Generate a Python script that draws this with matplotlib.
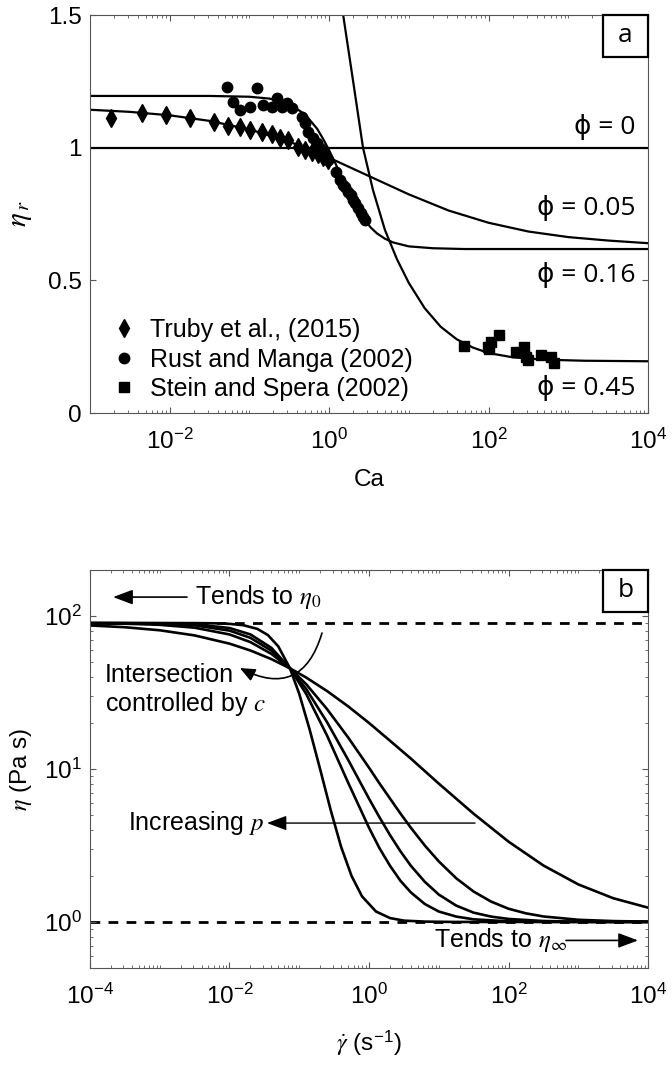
import matplotlib
matplotlib.use("Agg")
from matplotlib import pyplot as plt
from matplotlib.patches import Rectangle
from matplotlib.ticker import FixedLocator, LogLocator, NullFormatter

# ---- panel a: relative viscosity against capillary number ----
ca_phi0 = [1e-3, 1e4]
eta_phi0 = [1.0, 1.0]

ca_phi05 = [1e-3, 3.16e-3, 1e-2, 3.16e-2, 0.1, 0.316, 1.0, 3.16, 10, 31.6,
            100, 316, 1000, 3160, 1e4]
eta_phi05 = [1.143, 1.135, 1.122, 1.101, 1.069, 1.023, 0.962, 0.893, 0.824,
             0.763, 0.717, 0.684, 0.663, 0.650, 0.640]

ca_phi16 = [1e-3, 1e-2, 3.16e-2, 0.1, 0.178, 0.316, 0.501, 0.708, 0.841, 1.0,
            1.19, 1.41, 1.68, 2.0, 2.37, 2.82, 3.35, 3.98, 5.01, 6.31, 10, 20,
            50, 1e4]
eta_phi16 = [1.195, 1.195, 1.195, 1.192, 1.185, 1.165, 1.125, 1.071, 1.033,
             0.990, 0.943, 0.893, 0.844, 0.799, 0.759, 0.726, 0.698, 0.677,
             0.657, 0.643, 0.628, 0.621, 0.618, 0.618]

ca_phi45 = [1.32, 1.50, 2.0, 2.66, 3.55, 5.01, 7.08, 10, 15.8, 25.1, 39.8,
            63.1, 100, 200, 501, 1580, 1e4]
eta_phi45 = [1.62, 1.50, 1.25, 1.0, 0.84, 0.69, 0.58, 0.49, 0.395, 0.325,
             0.278, 0.247, 0.226, 0.21, 0.201, 0.197, 0.195]

truby_ca = [1.82e-3, 4.47e-3, 8.91e-3, 1.78e-2, 3.63e-2, 5.37e-2, 7.59e-2,
            0.102, 0.145, 0.191, 0.240, 0.302, 0.407, 0.501, 0.617, 0.724,
            0.832, 0.977]
truby_eta = [1.11, 1.13, 1.123, 1.11, 1.097, 1.082, 1.078, 1.067, 1.059,
             1.052, 1.036, 1.029, 1.003, 0.991, 0.984, 0.976, 0.965, 0.954]

rust_ca = [0.0525, 0.126, 0.0631, 0.0759, 0.102, 0.148, 0.224, 0.191, 0.257,
           0.295, 0.339, 0.457, 0.501, 0.550, 0.631, 0.708, 0.776, 0.832,
           0.977, 1.23, 1.35, 1.48, 1.58, 1.74, 1.86, 2.0, 2.14, 2.29, 2.51,
           2.69, 2.82]
rust_eta = [1.229, 1.225, 1.172, 1.142, 1.153, 1.161, 1.187, 1.153, 1.153,
            1.168, 1.15, 1.116, 1.093, 1.06, 1.036, 1.018, 0.999, 0.98, 0.954,
            0.908, 0.88, 0.86, 0.85, 0.833, 0.82, 0.803, 0.79, 0.773, 0.755,
            0.739, 0.728]

stein_ca = [49.0, 97.7, 107, 135, 100, 224, 282, 295, 316, 457, 603, 661]
stein_eta = [0.253, 0.249, 0.268, 0.294, 0.241, 0.23, 0.249, 0.211, 0.2,
             0.219, 0.211, 0.188]

phi_labels = ["\u03d5 = 0", "\u03d5 = 0.05", "\u03d5 = 0.16", "\u03d5 = 0.45"]
phi_label_y = [1.078, 0.773, 0.52, 0.094]

# ---- panel b: viscosity against shear rate for increasing p ----
eta_0 = 90.0
eta_inf = 1.0
rate_limits = [1e-4, 1e4]

rate_c1 = [1e-4, 1e-3, 3.16e-3, 6.31e-3, 1e-2, 1.58e-2, 2.51e-2, 3.55e-2,
           5.01e-2, 7.36e-2, 0.1, 0.141, 0.2, 0.282, 0.398, 0.562, 0.794,
           1.26, 2.0, 3.16, 6.31, 15.8, 1e4]
eta_c1 = [90.0, 90.0, 89.9, 89.6, 88.9, 87.1, 82.4, 75.1, 63.3, 45.5, 31.0,
          18.1, 9.9, 5.4, 3.1, 2.0, 1.47, 1.17, 1.06, 1.02, 1.005, 1.0, 1.0]

rate_c2 = [1e-4, 3.16e-4, 1e-3, 3.16e-3, 1e-2, 0.02, 0.0398, 0.0736, 0.126,
           0.251, 0.501, 1.0, 1.41, 2.0, 2.82, 3.98, 6.31, 10, 17.8, 31.6,
           100, 316, 1000, 1e4]
eta_c2 = [90.0, 89.9, 89.6, 88.4, 83.5, 75.8, 62.0, 45.5, 30.9, 16.5, 8.16,
          4.13, 3.04, 2.33, 1.86, 1.56, 1.31, 1.17, 1.084, 1.04, 1.009, 1.002,
          1.0, 1.0]

rate_c3 = [1e-4, 3.16e-4, 1e-3, 3.16e-3, 1e-2, 0.02, 0.0398, 0.0736, 0.126,
           0.251, 0.501, 1.0, 1.41, 2.0, 2.82, 3.98, 6.31, 10, 17.8, 31.6,
           56.2, 100, 316, 1000, 3160, 1e4]
eta_c3 = [89.9, 89.7, 89.0, 86.9, 80.3, 72.0, 59.4, 45.5, 33.3, 20.2, 11.5,
          6.40, 4.84, 3.70, 2.90, 2.33, 1.83, 1.51, 1.279, 1.15, 1.084, 1.046,
          1.014, 1.004, 1.001, 1.0]

rate_c4 = [1e-4, 3.16e-4, 1e-3, 3.16e-3, 1e-2, 0.02, 0.0398, 0.0736, 0.126,
           0.251, 0.501, 1.0, 1.41, 2.0, 2.82, 3.98, 6.31, 10, 17.8, 31.6,
           56.2, 100, 178, 316, 1000, 3160, 1e4]
eta_c4 = [89.6, 89.1, 87.6, 83.9, 75.8, 67.5, 56.6, 45.5, 35.8, 24.6, 16.1,
          10.2, 8.06, 6.41, 5.12, 4.13, 3.16, 2.49, 1.93, 1.58, 1.359, 1.22,
          1.138, 1.086, 1.033, 1.013, 1.005]

rate_c5 = [1e-4, 3.16e-4, 1e-3, 3.16e-3, 1e-2, 0.02, 0.0398, 0.0736, 0.126,
           0.251, 0.501, 1.0, 2.0, 3.98, 10, 31.6, 100, 316, 1000, 3160, 1e4]
eta_c5 = [86.8, 84.5, 80.7, 74.7, 66.0, 59.5, 52.3, 45.5, 39.6, 32.3, 25.7,
          20.0, 15.3, 11.7, 8.03, 5.10, 3.35, 2.34, 1.76, 1.43, 1.24]


plt.rcParams.update(
    {
        "font.family": ["Liberation Sans", "DejaVu Sans"],
        "font.size": 17.5,
        "mathtext.fontset": "stix",
        "axes.unicode_minus": False,
        "axes.linewidth": 0.8,
        "axes.edgecolor": "#555555",
        "xtick.direction": "in",
        "ytick.direction": "in",
        "xtick.top": True,
        "ytick.right": True,
        "xtick.color": "#555555",
        "ytick.color": "#555555",
        "xtick.labelcolor": "black",
        "ytick.labelcolor": "black",
        "xtick.major.size": 4,
        "ytick.major.size": 4,
        "xtick.minor.size": 2.5,
        "ytick.minor.size": 2.5,
        "xtick.major.pad": 11,
        "ytick.major.pad": 6,
        "xtick.labelsize": 17.5,
        "ytick.labelsize": 17.5,
    }
)

LABEL_FONT = ["Open Sans", "DejaVu Sans"]


def add_panel_box(ax, letter):
    w, h = 0.081, 0.105
    ax.add_patch(Rectangle((1 - w, 1 - h), w, h, transform=ax.transAxes,
                           facecolor="white", edgecolor="black", lw=1.6,
                           zorder=10, clip_on=False))
    ax.text(1 - w / 2, 1 - h / 2, letter, transform=ax.transAxes,
            ha="center", va="center", fontsize=19, family=LABEL_FONT,
            zorder=11)


def log_ticks(axis, majors):
    axis.set_major_locator(FixedLocator(majors))
    axis.set_minor_locator(LogLocator(base=10, subs=range(1, 10), numticks=30))
    axis.set_minor_formatter(NullFormatter())


fig = plt.figure(figsize=(6.72, 10.65), dpi=100)
ax_a = fig.add_axes([0.1339, 0.6122, 0.8304, 0.3737])
ax_b = fig.add_axes([0.1339, 0.0911, 0.8304, 0.3737])

# panel a
ax_a.set_xscale("log")
for ca, eta in [(ca_phi0, eta_phi0), (ca_phi05, eta_phi05),
                (ca_phi16, eta_phi16), (ca_phi45, eta_phi45)]:
    ax_a.plot(ca, eta, color="black", lw=1.6, zorder=2)

h_truby, = ax_a.plot(truby_ca, truby_eta, "d", color="black", ms=9, zorder=3)
h_rust, = ax_a.plot(rust_ca, rust_eta, "o", color="black", ms=7.5, zorder=3)
h_stein, = ax_a.plot(stein_ca, stein_eta, "s", color="black", ms=7, zorder=3)

ax_a.legend([h_truby, h_rust, h_stein],
            ["Truby et al., (2015)", "Rust and Manga (2002)",
             "Stein and Spera (2002)"],
            loc="lower left", bbox_to_anchor=(0.039, 0.03), frameon=False,
            borderpad=0, borderaxespad=0, handlelength=1.0,
            handletextpad=0.55, labelspacing=0.22, fontsize=18)

for text, y in zip(phi_labels, phi_label_y):
    ax_a.text(0.978, y, text, transform=ax_a.get_yaxis_transform(),
              ha="right", va="center", fontsize=19, family=LABEL_FONT)

ax_a.set_xlim(1e-3, 1e4)
ax_a.set_ylim(0, 1.5)
log_ticks(ax_a.xaxis, [1e-2, 1e0, 1e2, 1e4])
ax_a.set_yticks([0, 0.5, 1, 1.5])
ax_a.set_yticklabels(["0", "0.5", "1", "1.5"])
ax_a.set_xlabel("Ca")
ax_a.xaxis.set_label_coords(0.5, -0.14)
ax_a.set_ylabel(r"$\eta_{\,r}$", fontsize=21)
ax_a.yaxis.set_label_coords(-0.1, 0.5)
add_panel_box(ax_a, "a")

# panel b
ax_b.set_xscale("log")
ax_b.set_yscale("log")
dash = (0, (3.5, 3))
ax_b.plot(rate_limits, [eta_0, eta_0], color="black", lw=2, ls=dash, zorder=1)
ax_b.plot(rate_limits, [eta_inf, eta_inf], color="black", lw=2, ls=dash,
          zorder=1)
for rate, eta in [(rate_c1, eta_c1), (rate_c2, eta_c2), (rate_c3, eta_c3),
                  (rate_c4, eta_c4), (rate_c5, eta_c5)]:
    ax_b.plot(rate, eta, color="black", lw=1.9, zorder=2)

straight = dict(arrowstyle="-|>,head_length=0.8,head_width=0.3",
                mutation_scale=15, lw=1.2, color="black",
                shrinkA=0, shrinkB=0)
ax_b.annotate("", xy=(2.14e-4, 133), xytext=(2.46e-3, 133),
              arrowprops=straight)
ax_b.text(3.2e-3, 133, r"Tends to $\eta_{\mathit{0}}$", ha="left",
          va="center", fontsize=18)

ax_b.annotate("", xy=(7200, 0.757), xytext=(667, 0.757), arrowprops=straight)
ax_b.text(8.55, 0.762, r"Tends to $\eta_\infty$", ha="left", va="center",
          fontsize=18)

ax_b.annotate("", xy=(0.0345, 4.43), xytext=(33.1, 4.43),
              arrowprops=dict(straight, lw=1.0))
ax_b.text(0.0313, 4.43, r"Increasing $p$", ha="right", va="center",
          fontsize=18)

ax_b.annotate("", xy=(0.0141, 45.7), xytext=(0.212, 77.4),
              arrowprops=dict(arrowstyle="-|>,head_length=0.7,head_width=0.3",
                              mutation_scale=13, lw=1.2, color="black",
                              shrinkA=0, shrinkB=0,
                              connectionstyle="arc3,rad=-0.6"))
ax_b.text(1.64e-4, 32.8, "Intersection\ncontrolled by $c$", ha="left",
          va="center", fontsize=18, linespacing=1.15)

ax_b.set_xlim(1e-4, 1e4)
ax_b.set_ylim(0.5, 200)
log_ticks(ax_b.xaxis, [1e-4, 1e-2, 1e0, 1e2, 1e4])
log_ticks(ax_b.yaxis, [1e0, 1e1, 1e2])
ax_b.set_xlabel(r"$\dot{\gamma}$ (s$^{\mathdefault{-1}}$)")
ax_b.xaxis.set_label_coords(0.5, -0.15)
ax_b.set_ylabel(r"$\eta$ (Pa s)")
ax_b.yaxis.set_label_coords(-0.1, 0.5)
add_panel_box(ax_b, "b")

fig.savefig("out.png", dpi=100)
